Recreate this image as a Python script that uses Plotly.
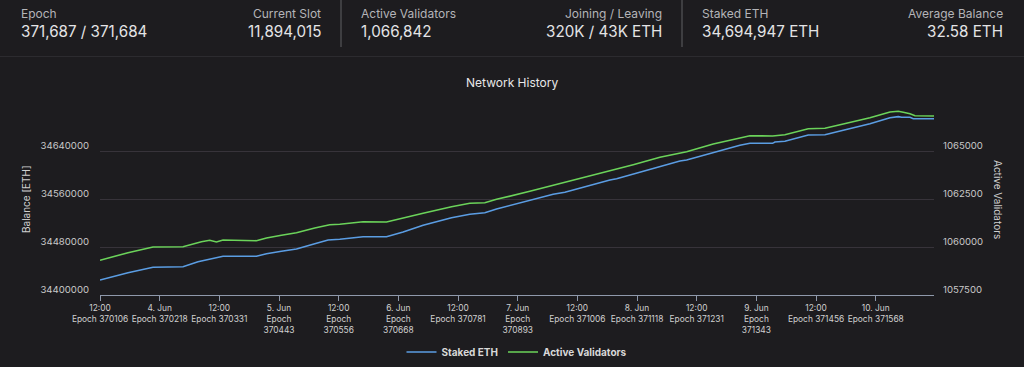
import pandas as pd
import plotly.graph_objects as go

# ---------------- data ----------------
BASE_TIME = "2025-06-03 12:00"

staked_hours = [0, 5.63, 10.66, 16.70, 19.71, 22.07, 24.74, 31.46, 33.48, 36.49, 39.51, 43.19,
                45.87, 48.22, 52.91, 57.62, 60.96, 64.98, 70.69, 74.37, 77.39, 79.75, 86.44,
                91.13, 93.49, 97.85, 102.54, 103.89, 107.23, 112.60, 116.62, 117.97, 123.32,
                128.69, 130.70, 135.27, 135.73, 137.74, 142.43, 145.79, 149.47, 154.84, 158.87,
                160.53, 161.22, 162.22, 162.89, 163.55, 167.72]
staked_eth = [34425000, 34437200, 34446200, 34447200, 34455500, 34460000, 34464500, 34464500,
              34468800, 34472800, 34476700, 34485500, 34491700, 34492800, 34497200, 34497200,
              34505000, 34516200, 34528800, 34534500, 34537200, 34543300, 34558300, 34567800,
              34571200, 34581700, 34591700, 34593800, 34601700, 34615000, 34623300, 34625000,
              34637800, 34649500, 34652800, 34652800, 34655000, 34656200, 34666700, 34667200,
              34674500, 34685500, 34695500, 34697200, 34696200, 34695500, 34696200, 34693800,
              34693800]

validator_hours = [0, 5.63, 10.66, 16.70, 20.40, 22.07, 23.42, 24.74, 31.46, 33.48, 36.49, 39.51,
                   43.19, 46.21, 48.22, 52.91, 57.62, 60.96, 64.98, 70.69, 74.37, 77.39, 79.75,
                   86.44, 91.13, 93.49, 97.85, 102.54, 103.89, 107.23, 112.60, 116.62, 117.97,
                   123.32, 128.69, 130.70, 135.27, 137.74, 142.43, 145.79, 149.47, 154.84, 158.87,
                   160.53, 161.54, 162.89, 163.90, 167.72]
active_validators = [1059307, 1059703, 1060000, 1060016, 1060276, 1060349, 1060260, 1060365,
                     1060328, 1060469, 1060609, 1060745, 1060990, 1061161, 1061182, 1061318,
                     1061302, 1061495, 1061755, 1062099, 1062276, 1062307, 1062484, 1062901,
                     1063213, 1063333, 1063661, 1063974, 1064047, 1064286, 1064672, 1064911,
                     1064963, 1065365, 1065677, 1065797, 1065781, 1065849, 1066161, 1066182,
                     1066406, 1066734, 1067031, 1067068, 1067016, 1066943, 1066839, 1066823]

tick_hours = [0, 12, 24, 36, 48, 60, 72, 84, 96, 108, 120, 132, 144, 156]
tick_dates = ["12:00", "4. Jun", "12:00", "5. Jun", "12:00", "6. Jun", "12:00", "7. Jun",
              "12:00", "8. Jun", "12:00", "9. Jun", "12:00", "10. Jun"]
tick_epochs = ["Epoch 370106", "Epoch 370218", "Epoch 370331", "Epoch<br>370443",
               "Epoch<br>370556", "Epoch<br>370668", "Epoch 370781", "Epoch<br>370893",
               "Epoch 371006", "Epoch 371118", "Epoch 371231", "Epoch<br>371343",
               "Epoch 371456", "Epoch 371568"]

left_ticks = [34400000, 34480000, 34560000, 34640000, 34720000]
left_labels = ["34400000", "34480000", "34560000", "34640000", ""]
right_ticks = [1057500, 1060000, 1062500, 1065000, 1067500]
right_labels = ["1057500", "1060000", "1062500", "1065000", ""]

stat_labels = ["Epoch", "Current Slot", "Active Validators", "Joining / Leaving", "Staked ETH", "Average Balance"]
stat_values = ["371,687 / 371,684", "11,894,015", "1,066,842", "320K / 43K ETH", "34,694,947 ETH", "32.58 ETH"]

# ---------------- figure ----------------
base = pd.Timestamp(BASE_TIME)
to_time = lambda hs: [base + pd.to_timedelta(h, unit="h") for h in hs]

W, H = 1024, 367
L, R, T, B = 100, 90, 103, 72
PW, PH = W - L - R, H - T - B

BG = "#1d1c1f"
FONT = "Inter, Roboto, sans-serif"
BLUE = "#5b9de3"
GREEN = "#6bd35a"

fig = go.Figure()
fig.add_trace(go.Scatter(x=to_time(staked_hours), y=staked_eth, name="Staked ETH",
                         mode="lines", line=dict(color=BLUE, width=1.6), yaxis="y"))
fig.add_trace(go.Scatter(x=to_time(validator_hours), y=active_validators, name="Active Validators",
                         mode="lines", line=dict(color=GREEN, width=1.6), yaxis="y2"))


def px_x(px):
    return (px - L) / PW


def px_y(py):
    return (H - B - py) / PH


annotations = []
# stats bar
stat_x = [19, 323, 359, 664, 700, 1005]
stat_align = ["left", "right", "left", "right", "left", "right"]
for lab, val, x, al in zip(stat_labels, stat_values, stat_x, stat_align):
    annotations.append(dict(text=lab, x=px_x(x), y=px_y(14), xref="paper", yref="paper",
                            xanchor=al, yanchor="middle", showarrow=False,
                            font=dict(family=FONT, size=12, color="#b4b4b8")))
    annotations.append(dict(text=val, x=px_x(x), y=px_y(32), xref="paper", yref="paper",
                            xanchor=al, yanchor="middle", showarrow=False,
                            font=dict(family=FONT, size=15.2, color="#e4e4e6")))
# title
annotations.append(dict(text="Network History", x=px_x(512), y=px_y(82), xref="paper", yref="paper",
                        xanchor="center", yanchor="middle", showarrow=False,
                        font=dict(family=FONT, size=12, color="#e8e8e8")))
# axis titles
annotations.append(dict(text="Balance [ETH]", x=px_x(26), y=px_y(199), xref="paper", yref="paper",
                        xanchor="center", yanchor="middle", showarrow=False, textangle=-90,
                        font=dict(family=FONT, size=10, color="#d0d0d0")))
annotations.append(dict(text="Active Validators", x=px_x(998), y=px_y(199), xref="paper", yref="paper",
                        xanchor="center", yanchor="middle", showarrow=False, textangle=90,
                        font=dict(family=FONT, size=10, color="#d0d0d0")))

shapes = [
    dict(type="line", xref="paper", yref="paper", x0=px_x(341), x1=px_x(341), y0=px_y(0), y1=px_y(47),
         line=dict(color="#4a4a4e", width=1.5)),
    dict(type="line", xref="paper", yref="paper", x0=px_x(682), x1=px_x(682), y0=px_y(0), y1=px_y(47),
         line=dict(color="#4a4a4e", width=1.5)),
    dict(type="line", xref="paper", yref="paper", x0=px_x(0), x1=px_x(W), y0=px_y(56.5), y1=px_y(56.5),
         line=dict(color="#2c2b2f", width=1)),
]

fig.update_layout(
    width=W, height=H,
    margin=dict(l=L, r=R, t=T, b=B, pad=0, autoexpand=False),
    paper_bgcolor=BG, plot_bgcolor=BG,
    font=dict(family=FONT, color="#d0d0d0"),
    showlegend=True,
    legend=dict(orientation="h", x=0.5, xanchor="center", y=px_y(352), yanchor="middle",
                font=dict(family=FONT, size=10, color="#d8d8d8", weight="bold"),
                bgcolor="rgba(0,0,0,0)", itemwidth=30, tracegroupgap=0),
    xaxis=dict(type="date", range=[to_time([0])[0], to_time([167.72])[0]],
               tickvals=to_time(tick_hours),
               ticktext=[d + "<br>" + e for d, e in zip(tick_dates, tick_epochs)],
               tickangle=0, automargin=False,
               showgrid=False, zeroline=False, showline=True, linecolor="#8f99ab", linewidth=1,
               ticks="outside", ticklen=5, tickcolor="#8f99ab", tickwidth=1,
               tickfont=dict(family=FONT, size=8.4, color="#d0d0d0")),
    yaxis=dict(range=[34400000, 34720000], tickvals=left_ticks, ticktext=left_labels,
               automargin=False,
               showgrid=True, gridcolor="#37333a", gridwidth=1, zeroline=False, showline=False,
               ticks="", ticklabelstandoff=10, ticklabelshift=-5,
               tickfont=dict(family=FONT, size=9.6, color="#c8c8c8")),
    yaxis2=dict(range=[1057500, 1067500], tickvals=right_ticks, ticktext=right_labels,
                automargin=False,
                overlaying="y", side="right", showgrid=False, zeroline=False, showline=False,
                ticks="", ticklabelstandoff=8, ticklabelshift=-5,
                tickfont=dict(family=FONT, size=9.6, color="#c8c8c8")),
    annotations=annotations,
    shapes=shapes,
)

fig.write_html("out.html", config={"displayModeBar": False},
               post_script="document.body.style.margin='0';document.body.style.background='" + BG + "';")
